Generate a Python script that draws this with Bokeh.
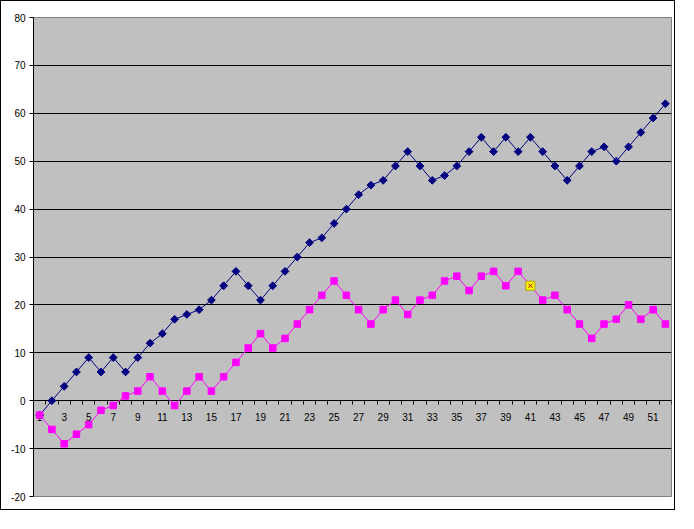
from bokeh.plotting import figure
from bokeh.models import Range1d, FixedTicker, ColumnDataSource
from bokeh.embed import file_html
from bokeh.resources import INLINE
import math

categories = list(range(1, 53))
series_blue = [-3, 0, 3, 6, 9, 6, 9, 6, 9, 12, 14, 17, 18, 19, 21, 24, 27, 24, 21, 24,
               27, 30, 33, 34, 37, 40, 43, 45, 46, 49, 52, 49, 46, 47, 49, 52, 55, 52, 55, 52,
               55, 52, 49, 46, 49, 52, 53, 50, 53, 56, 59, 62]
series_pink = [-3, -6, -9, -7, -5, -2, -1, 1, 2, 5, 2, -1, 2, 5, 2, 5, 8, 11, 14, 11,
               13, 16, 19, 22, 25, 22, 19, 16, 19, 21, 18, 21, 22, 25, 26, 23, 26, 27, 24, 27,
               24, 21, 22, 19, 16, 13, 16, 17, 20, 17, 19, 16]
highlight_category = 41
x_tick_labels = ["1", "3", "5", "7", "9", "11", "13", "15", "17", "19", "21", "23", "25",
                 "27", "29", "31", "33", "35", "37", "39", "41", "43", "45", "47", "49", "51"]
y_ticks = [-20, -10, 0, 10, 20, 30, 40, 50, 60, 70, 80]
y_tick_labels = ["-20", "-10", "0", "10", "20", "30", "40", "50", "60", "70", "80"]

FONT = "Liberation Sans"

p = figure(frame_width=638, frame_height=479,
           x_range=Range1d(0.5, len(categories) + 0.5), y_range=Range1d(y_ticks[0], y_ticks[-1]),
           output_backend="svg", toolbar_location=None,
           min_border_left=32, min_border_right=3, min_border_top=16, min_border_bottom=13)
p.background_fill_color = "#C0C0C0"
p.border_fill_color = "white"
p.outline_line_color = "#808080"
p.outline_line_width = 1
p.styles = {"border": "1px solid black"}

# y axis
p.yaxis.ticker = FixedTicker(ticks=y_ticks)
p.yaxis.major_label_overrides = {v: s for v, s in zip(y_ticks, y_tick_labels)}
p.yaxis.axis_line_color = "black"
p.yaxis.major_tick_out = 4
p.yaxis.major_tick_in = 0
p.yaxis.minor_tick_line_color = None
p.yaxis.major_label_standoff = 4
p.yaxis.major_label_text_font = FONT
p.yaxis.major_label_text_font_size = "10px"
p.yaxis.major_label_text_color = "black"

# x axis at y = 0
label_pos = [int(s) for s in x_tick_labels]
boundaries = [c - 0.5 for c in categories] + [categories[-1] + 0.5]
p.xaxis.fixed_location = 0
p.xaxis.level = "underlay"
p.xaxis.ticker = FixedTicker(ticks=label_pos, minor_ticks=boundaries)
p.xaxis.major_label_overrides = {v: s for v, s in zip(label_pos, x_tick_labels)}
p.xaxis.axis_line_color = "black"
p.xaxis.major_tick_out = 0
p.xaxis.major_tick_in = 0
p.xaxis.minor_tick_out = 4
p.xaxis.minor_tick_in = 0
p.xaxis.minor_tick_line_color = "black"
p.xaxis.major_label_standoff = 8
p.xaxis.major_label_text_font = FONT
p.xaxis.major_label_text_font_size = "10px"
p.xaxis.major_label_text_color = "black"

# grid
p.xgrid.grid_line_color = None
p.ygrid.ticker = FixedTicker(ticks=y_ticks[1:-1])
p.ygrid.grid_line_color = "black"
p.ygrid.grid_line_width = 1

src = ColumnDataSource(dict(x=categories, blue=series_blue, pink=series_pink))

p.line("x", "blue", source=src, line_color="#000080", line_width=1)
p.scatter("x", "blue", source=src, marker="square", angle=math.pi / 4, size=5.5,
          fill_color="#000080", line_color="#000080")

p.line("x", "pink", source=src, line_color="#FF00FF", line_width=1)
p.scatter("x", "pink", source=src, marker="square", size=6.5,
          fill_color="#FF00FF", line_color="#FF00FF")

hi = categories.index(highlight_category)
p.scatter([categories[hi]], [series_pink[hi]], marker="square", size=9,
          fill_color="#FFFF00", line_color="#B0A000")
p.scatter([categories[hi]], [series_pink[hi]], marker="x", size=6,
          line_color="#C00000", line_width=1)

open("out.html", "w").write(file_html(p, INLINE))
